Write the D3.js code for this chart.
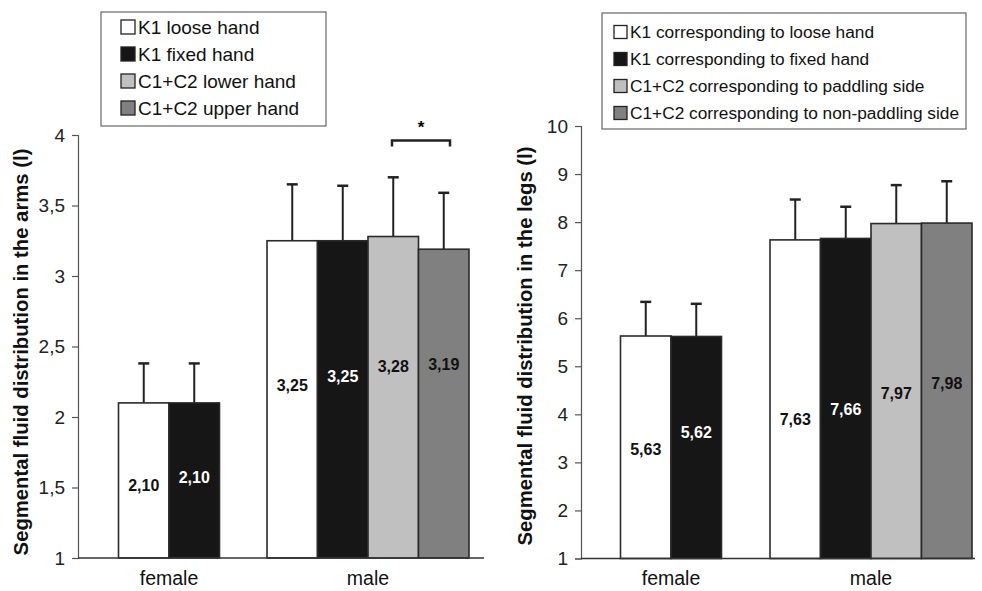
<!DOCTYPE html>
<html>
<head>
<meta charset="utf-8">
<script src="https://cdn.jsdelivr.net/npm/d3@7"></script>
<style>
  body { margin: 0; background: #fff; }
  svg { font-family: "Liberation Sans", Arial, sans-serif; }
</style>
</head>
<body>
<div id="svgDiv"></div>
<script>
// data
var groups = ["female", "male"];
var fills = ["#ffffff", "#161616", "#c0c0c0", "#808080"];

var armsSeries = ["K1 loose hand", "K1 fixed hand", "C1+C2 lower hand", "C1+C2 upper hand"];
var armsFemale = [2.10, 2.10];
var armsFemaleSD = [0.28, 0.28];
var armsMale = [3.25, 3.25, 3.28, 3.19];
var armsMaleSD = [0.40, 0.39, 0.42, 0.40];
var armsTicks = [1, 1.5, 2, 2.5, 3, 3.5, 4];

var legsSeries = ["K1 corresponding to loose hand", "K1 corresponding to fixed hand",
                  "C1+C2 corresponding to paddling side", "C1+C2 corresponding to non-paddling side"];
var legsFemale = [5.63, 5.62];
var legsFemaleSD = [0.71, 0.68];
var legsMale = [7.63, 7.66, 7.97, 7.98];
var legsMaleSD = [0.84, 0.66, 0.80, 0.87];
var legsTicks = [1, 2, 3, 4, 5, 6, 7, 8, 9, 10];

var svg = d3.select("#svgDiv").append("svg")
            .attr("width", 982)
            .attr("height", 591);

function fmt(v, dec){ return d3.format("." + dec + "f")(v).replace(".", ","); }

function drawPanel(p){
  var g = svg.append("g");
  var y = d3.scaleLinear().domain(p.yDomain).range([p.yBottom, p.yTop]);
  var x = d3.scalePoint().domain(groups).range(p.groupCenters);
  var bw = 50.5;

  // y axis
  var yAxis = d3.axisLeft(y).tickValues(p.ticks).tickSize(6).tickPadding(7)
                .tickFormat(function(d){ return fmt(d, d % 1 ? 1 : 0); });
  var ya = g.append("g").attr("transform", "translate(" + p.xLeft + ",0)").call(yAxis);
  ya.select(".domain").attr("stroke", "#555").attr("stroke-width", 1.2);
  ya.selectAll(".tick line").attr("stroke", "#555").attr("stroke-width", 1.2);
  ya.selectAll(".tick text").attr("font-size", "19px").attr("fill", "#222")
    .attr("font-family", "Liberation Sans, Arial, sans-serif");

  // y title
  g.append("text")
   .attr("transform", "translate(" + p.titleX + "," + p.titleY + ") rotate(-90)")
   .attr("text-anchor", "middle")
   .attr("dy", "0.35em")
   .attr("font-size", "20.3px")
   .attr("font-weight", "bold")
   .attr("fill", "#111")
   .text(p.title);

  var sets = [
    {grp: "female", vals: p.female, sd: p.femaleSD, off: p.labelOff[0], step: p.labelStep[0]},
    {grp: "male", vals: p.male, sd: p.maleSD, off: p.labelOff[1], step: p.labelStep[1]}
  ];

  sets.forEach(function(s){
    var n = s.vals.length;
    var x0 = x(s.grp) - n * bw / 2;
    var data = s.vals.map(function(v, i){ return {v: v, sd: s.sd[i], i: i}; });
    var bg = g.append("g");

    // error bars (drawn under the bars)
    bg.selectAll(".err").data(data).enter().append("line")
      .attr("x1", function(d){ return x0 + d.i * bw + bw / 2; })
      .attr("x2", function(d){ return x0 + d.i * bw + bw / 2; })
      .attr("y1", function(d){ return y(d.v); })
      .attr("y2", function(d){ return y(d.v + d.sd); })
      .attr("stroke", "#222").attr("stroke-width", 2);
    bg.selectAll(".cap").data(data).enter().append("line")
      .attr("x1", function(d){ return x0 + d.i * bw + bw / 2 - 5.5; })
      .attr("x2", function(d){ return x0 + d.i * bw + bw / 2 + 5.5; })
      .attr("y1", function(d){ return y(d.v + d.sd); })
      .attr("y2", function(d){ return y(d.v + d.sd); })
      .attr("stroke", "#222").attr("stroke-width", 2.5);

    bg.selectAll("rect").data(data).enter().append("rect")
      .attr("x", function(d){ return x0 + d.i * bw; })
      .attr("y", function(d){ return y(d.v); })
      .attr("width", bw)
      .attr("height", function(d){ return y(p.yDomain[0]) - y(d.v); })
      .attr("fill", function(d){ return fills[d.i]; })
      .attr("stroke", "#2a2a2a").attr("stroke-width", 1.6);

    bg.selectAll(".lbl").data(data).enter().append("text")
      .attr("x", function(d){ return x0 + d.i * bw + bw / 2; })
      .attr("y", function(d){ return (y(d.v) + y(p.yDomain[0])) / 2 + s.off - d.i * s.step; })
      .attr("dy", "0.35em")
      .attr("text-anchor", "middle")
      .attr("font-size", "16px")
      .attr("font-weight", "bold")
      .attr("fill", function(d){ return d.i === 1 ? "#fff" : "#111"; })
      .text(function(d){ return fmt(d.v, 2); });
  });

  // x axis line
  g.append("line")
   .attr("x1", p.xLeft).attr("x2", p.xRight)
   .attr("y1", y(p.yDomain[0])).attr("y2", y(p.yDomain[0]))
   .attr("stroke", "#333").attr("stroke-width", 1.6);

  g.selectAll(".xl").data(groups).enter().append("text")
   .attr("x", function(d){ return x(d); })
   .attr("y", 585)
   .attr("text-anchor", "middle")
   .attr("font-size", "19.5px")
   .attr("fill", "#111")
   .text(function(d){ return d; });

  // legend
  var lg = g.append("g");
  lg.append("rect")
    .attr("x", p.legend.x).attr("y", p.legend.y)
    .attr("width", p.legend.w).attr("height", p.legend.h)
    .attr("fill", "#fff").attr("stroke", "#666").attr("stroke-width", 1.2);
  var items = lg.selectAll(".item").data(p.series).enter().append("g")
    .attr("transform", function(d, i){
      return "translate(" + p.legend.sx + "," + (p.legend.y0 + i * p.legend.dy) + ")";
    });
  items.append("rect")
    .attr("x", 0).attr("y", -p.legend.sq / 2)
    .attr("width", p.legend.sq).attr("height", p.legend.sq)
    .attr("fill", function(d, i){ return fills[i]; })
    .attr("stroke", "#222").attr("stroke-width", 1.3);
  items.append("text")
    .attr("x", p.legend.sq + 3).attr("dy", "0.36em")
    .attr("font-size", p.legend.fs)
    .attr("fill", "#111")
    .text(function(d){ return d; });

  return {g: g, y: y};
}

var arms = drawPanel({
  yDomain: [1, 4], yBottom: 558, yTop: 135, ticks: armsTicks,
  xLeft: 78, xRight: 484, groupCenters: [169, 368],
  title: "Segmental fluid distribution in the arms (l)", titleX: 21, titleY: 352,
  female: armsFemale, femaleSD: armsFemaleSD, male: armsMale, maleSD: armsMaleSD,
  labelOff: [5, -14], labelStep: [8.5, 8.5],
  series: armsSeries,
  legend: {x: 101, y: 12, w: 225, h: 114, sx: 121, y0: 27, dy: 27, sq: 14, fs: "19px"}
});

// significance bracket between the two C1+C2 bars
var br = arms.g.append("g");
br.append("path")
  .attr("d", "M392,146.5V140.5H450V146.5")
  .attr("fill", "none").attr("stroke", "#222").attr("stroke-width", 2.5);
br.append("text")
  .attr("x", 421).attr("y", 133)
  .attr("text-anchor", "middle")
  .attr("font-size", "17px").attr("font-weight", "bold")
  .text("*");

drawPanel({
  yDomain: [1, 10], yBottom: 558.5, yTop: 126, ticks: legsTicks,
  xLeft: 581, xRight: 975, groupCenters: [671, 871],
  title: "Segmental fluid distribution in the legs (l)", titleX: 525, titleY: 346,
  female: legsFemale, femaleSD: legsFemaleSD, male: legsMale, maleSD: legsMaleSD,
  labelOff: [2, 20], labelStep: [17, 9],
  series: legsSeries,
  legend: {x: 602, y: 13, w: 364, h: 116, sx: 614, y0: 32, dy: 27, sq: 13, fs: "17.3px"}
});
</script>
</body>
</html>
